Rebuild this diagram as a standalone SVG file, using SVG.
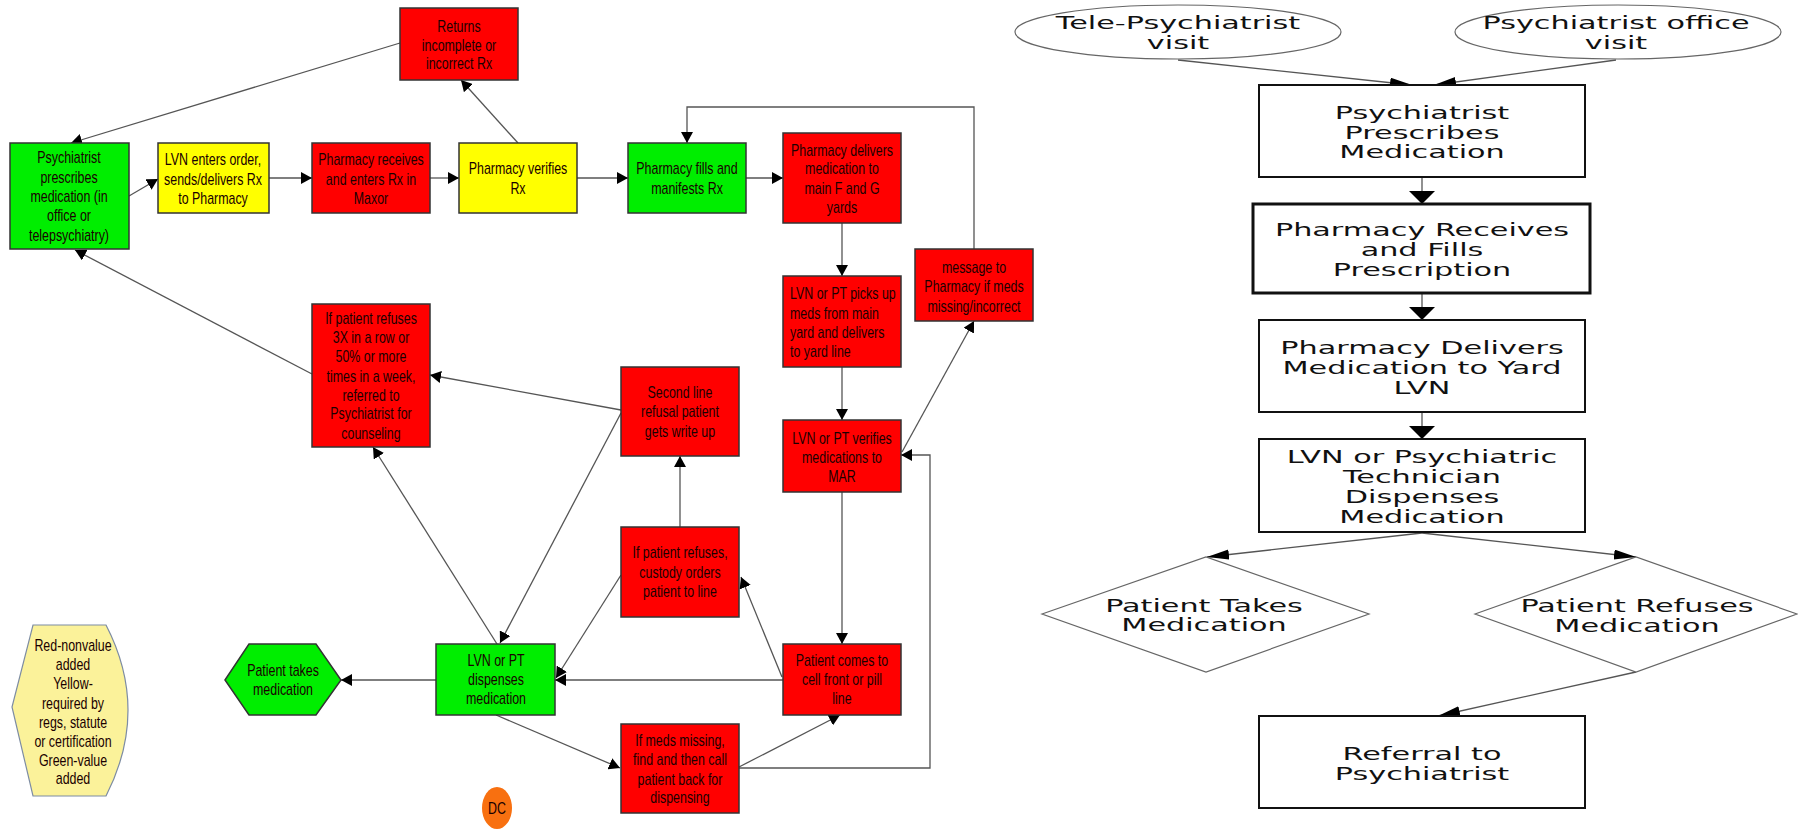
<svg xmlns="http://www.w3.org/2000/svg" width="1798" height="830" viewBox="0 0 1798 830">
<defs>
<style>
.bx{stroke:#333;stroke-width:1.5}
.red{fill:#ff0000}.grn{fill:#00ee00}.yel{fill:#ffff00}
.lt{font-family:"Liberation Sans",Arial,sans-serif;font-size:17px;fill:#1a0000;text-anchor:middle}
.rt{font-family:"DejaVu Sans","Liberation Sans",sans-serif;font-size:17px;fill:#111;text-anchor:middle}
.cn{fill:none;stroke:#555;stroke-width:1.3}
.cr{fill:none;stroke:#555;stroke-width:1.3}
.rb{fill:#fff;stroke:#111;stroke-width:2}
.rs{fill:#fff;stroke:#666;stroke-width:1.2}
</style>
<marker id="a" markerUnits="userSpaceOnUse" markerWidth="12" markerHeight="12" refX="11" refY="6" orient="auto"><path d="M0,0 L11,6 L0,12 z" fill="#000"/></marker>
<marker id="av" markerUnits="userSpaceOnUse" markerWidth="14" markerHeight="28" refX="13" refY="13" orient="auto"><path d="M0,0 L13,13 L0,26 z" fill="#000"/></marker>
<marker id="ad" markerUnits="userSpaceOnUse" markerWidth="24" markerHeight="12" refX="22" refY="5" orient="auto"><path d="M0,0 L22,5 L0,10 z" fill="#000"/></marker>
</defs>

<g id="connectors">
<path class="cn" d="M129,196 L158,179" marker-end="url(#a)"/>
<path class="cn" d="M269,178 H312" marker-end="url(#a)"/>
<path class="cn" d="M430,178 H459" marker-end="url(#a)"/>
<path class="cn" d="M577,178 H628" marker-end="url(#a)"/>
<path class="cn" d="M746,178 H783" marker-end="url(#a)"/>
<path class="cn" d="M518,143 L461,80" marker-end="url(#a)"/>
<path class="cn" d="M400,43 L71,143" marker-end="url(#a)"/>
<path class="cn" d="M842,223 V276" marker-end="url(#a)"/>
<path class="cn" d="M842,367 V420" marker-end="url(#a)"/>
<path class="cn" d="M902,452 L974,321" marker-end="url(#a)"/>
<path class="cn" d="M974,249 V107 H687 V143" marker-end="url(#a)"/>
<path class="cn" d="M842,492 V644" marker-end="url(#a)"/>
<path class="cn" d="M783,680 H555" marker-end="url(#a)"/>
<path class="cn" d="M782,677 L741,577" marker-end="url(#a)"/>
<path class="cn" d="M621,575 L556,678" marker-end="url(#a)"/>
<path class="cn" d="M680,527 V456" marker-end="url(#a)"/>
<path class="cn" d="M621,410 L430,375" marker-end="url(#a)"/>
<path class="cn" d="M621,413 L500,643" marker-end="url(#a)"/>
<path class="cn" d="M497,644 L373,447" marker-end="url(#a)"/>
<path class="cn" d="M312,374 L75,250" marker-end="url(#a)"/>
<path class="cn" d="M436,680 H341" marker-end="url(#a)"/>
<path class="cn" d="M496,715 L620,768" marker-end="url(#a)"/>
<path class="cn" d="M739,767 L840,715" marker-end="url(#a)"/>
<path class="cn" d="M739,768 H930 V455 H901" marker-end="url(#a)"/>
<path class="cr" d="M1178,60 L1412,85" marker-end="url(#ad)"/>
<path class="cr" d="M1616,60 L1434,85" marker-end="url(#ad)"/>
<path class="cr" d="M1422,177 V204" marker-end="url(#av)"/>
<path class="cr" d="M1422,293 V320" marker-end="url(#av)"/>
<path class="cr" d="M1422,412 V439" marker-end="url(#av)"/>
<path class="cr" d="M1422,533 L1207,557" marker-end="url(#ad)"/>
<path class="cr" d="M1422,533 L1636,557" marker-end="url(#ad)"/>
<path class="cr" d="M1636,672 L1438,716" marker-end="url(#ad)"/>
</g>

<g id="n-psych"><rect class="bx grn" x="10" y="143" width="119" height="106"/>
<text class="lt" transform="translate(69 0) scale(0.73 1)"><tspan x="0" y="163">Psychiatrist</tspan><tspan x="0" y="183">prescribes</tspan><tspan x="0" y="202">medication (in</tspan><tspan x="0" y="221">office or</tspan><tspan x="0" y="241">telepsychiatry)</tspan></text></g>
<g id="n-lvnorder"><rect class="bx yel" x="158" y="143" width="111" height="70"/>
<text class="lt" transform="translate(213 0) scale(0.73 1)"><tspan x="0" y="165">LVN enters order,</tspan><tspan x="0" y="185">sends/delivers Rx</tspan><tspan x="0" y="204">to Pharmacy</tspan></text></g>
<g id="n-pharmrec"><rect class="bx red" x="312" y="143" width="118" height="70"/>
<text class="lt" transform="translate(371 0) scale(0.73 1)"><tspan x="0" y="165">Pharmacy receives</tspan><tspan x="0" y="185">and enters Rx in</tspan><tspan x="0" y="204">Maxor</tspan></text></g>
<g id="n-verifies"><rect class="bx yel" x="459" y="143" width="118" height="70"/>
<text class="lt" transform="translate(518 0) scale(0.73 1)"><tspan x="0" y="174">Pharmacy verifies</tspan><tspan x="0" y="194">Rx</tspan></text></g>
<g id="n-returns"><rect class="bx red" x="400" y="8" width="118" height="72"/>
<text class="lt" transform="translate(459 0) scale(0.73 1)"><tspan x="0" y="32">Returns</tspan><tspan x="0" y="51">incomplete or</tspan><tspan x="0" y="69">incorrect Rx</tspan></text></g>
<g id="n-fills"><rect class="bx grn" x="628" y="143" width="118" height="70"/>
<text class="lt" transform="translate(687 0) scale(0.73 1)"><tspan x="0" y="174">Pharmacy fills and</tspan><tspan x="0" y="194">manifests Rx</tspan></text></g>
<g id="n-delivers"><rect class="bx red" x="783" y="133" width="118" height="90"/>
<text class="lt" transform="translate(842 0) scale(0.73 1)"><tspan x="0" y="156">Pharmacy delivers</tspan><tspan x="0" y="174">medication to</tspan><tspan x="0" y="194">main F and G</tspan><tspan x="0" y="213">yards</tspan></text></g>
<g id="n-pickup"><rect class="bx red" x="783" y="276" width="118" height="91"/>
<text class="lt" style="text-anchor:start" transform="translate(790 0) scale(0.73 1)"><tspan x="0" y="299">LVN or PT picks up</tspan><tspan x="0" y="319">meds from main</tspan><tspan x="0" y="338">yard and delivers</tspan><tspan x="0" y="357">to yard line</tspan></text></g>
<g id="n-message"><rect class="bx red" x="915" y="249" width="118" height="72"/>
<text class="lt" transform="translate(974 0) scale(0.73 1)"><tspan x="0" y="273">message to</tspan><tspan x="0" y="292">Pharmacy if meds</tspan><tspan x="0" y="312">missing/incorrect</tspan></text></g>
<g id="n-mar"><rect class="bx red" x="783" y="420" width="118" height="72"/>
<text class="lt" transform="translate(842 0) scale(0.73 1)"><tspan x="0" y="444">LVN or PT verifies</tspan><tspan x="0" y="463">medications to</tspan><tspan x="0" y="482">MAR</tspan></text></g>
<g id="n-second"><rect class="bx red" x="621" y="367" width="118" height="89"/>
<text class="lt" transform="translate(680 0) scale(0.73 1)"><tspan x="0" y="398">Second line</tspan><tspan x="0" y="417">refusal patient</tspan><tspan x="0" y="437">gets write up</tspan></text></g>
<g id="n-custody"><rect class="bx red" x="621" y="527" width="118" height="90"/>
<text class="lt" transform="translate(680 0) scale(0.73 1)"><tspan x="0" y="558">If patient refuses,</tspan><tspan x="0" y="578">custody orders</tspan><tspan x="0" y="597">patient to line</tspan></text></g>
<g id="n-comes"><rect class="bx red" x="783" y="644" width="118" height="71"/>
<text class="lt" transform="translate(842 0) scale(0.73 1)"><tspan x="0" y="666">Patient comes to</tspan><tspan x="0" y="685">cell front or pill</tspan><tspan x="0" y="704">line</tspan></text></g>
<g id="n-missing"><rect class="bx red" x="621" y="724" width="118" height="89"/>
<text class="lt" transform="translate(680 0) scale(0.73 1)"><tspan x="0" y="746">If meds missing,</tspan><tspan x="0" y="765">find and then call</tspan><tspan x="0" y="785">patient back for</tspan><tspan x="0" y="803">dispensing</tspan></text></g>
<g id="n-dispenses"><rect class="bx grn" x="436" y="644" width="119" height="71"/>
<text class="lt" transform="translate(496 0) scale(0.73 1)"><tspan x="0" y="666">LVN or PT</tspan><tspan x="0" y="685">dispenses</tspan><tspan x="0" y="704">medication</tspan></text></g>
<g id="n-takes"><polygon class="bx grn" points="225,680 249,644 316,644 341,680 316,715 249,715"/>
<text class="lt" transform="translate(283 0) scale(0.73 1)"><tspan x="0" y="676">Patient takes</tspan><tspan x="0" y="695">medication</tspan></text></g>
<g id="n-3x"><rect class="bx red" x="312" y="304" width="118" height="143"/>
<text class="lt" transform="translate(371 0) scale(0.73 1)"><tspan x="0" y="324">If patient refuses</tspan><tspan x="0" y="343">3X in a row or</tspan><tspan x="0" y="362">50% or more</tspan><tspan x="0" y="382">times in a week,</tspan><tspan x="0" y="401">referred to</tspan><tspan x="0" y="419">Psychiatrist for</tspan><tspan x="0" y="439">counseling</tspan></text></g>
<g id="n-legend"><path d="M33,625 L106,625 Q150,710 106,796 L33,796 L12,707 Z" fill="#fbf29a" stroke="#7d8ca3" stroke-width="1.2"/>
<text class="lt" transform="translate(73 0) scale(0.73 1)"><tspan x="0" y="651">Red-nonvalue</tspan><tspan x="0" y="670">added</tspan><tspan x="0" y="689">Yellow-</tspan><tspan x="0" y="709">required by</tspan><tspan x="0" y="728">regs, statute</tspan><tspan x="0" y="747">or certification</tspan><tspan x="0" y="766">Green-value</tspan><tspan x="0" y="784">added</tspan></text></g>
<g id="n-dc"><ellipse cx="497" cy="808" rx="15" ry="21" fill="#f87010"/>
<text class="lt" transform="translate(497 0) scale(0.73 1)" x="0" y="814">DC</text></g>

<g id="r-tele"><ellipse class="rs" cx="1178" cy="32" rx="163" ry="27"/>
<text class="rt" transform="translate(1178 0) scale(1.78 1)"><tspan x="0" y="29">Tele-Psychiatrist</tspan><tspan x="0" y="49">visit</tspan></text></g>
<g id="r-office"><ellipse class="rs" cx="1618" cy="32" rx="163" ry="27"/>
<text class="rt" transform="translate(1616 0) scale(1.78 1)"><tspan x="0" y="29">Psychiatrist office</tspan><tspan x="0" y="49">visit</tspan></text></g>
<g id="r-prescribes"><rect class="rb" x="1259" y="85" width="326" height="92"/>
<text class="rt" transform="translate(1422 0) scale(1.78 1)"><tspan x="0" y="119">Psychiatrist</tspan><tspan x="0" y="139">Prescribes</tspan><tspan x="0" y="158">Medication</tspan></text></g>
<g id="r-receives"><rect class="rb" x="1253" y="204" width="337" height="89" style="stroke-width:3"/>
<text class="rt" transform="translate(1422 0) scale(1.78 1)"><tspan x="0" y="236">Pharmacy Receives</tspan><tspan x="0" y="256">and Fills</tspan><tspan x="0" y="276">Prescription</tspan></text></g>
<g id="r-delivers"><rect class="rb" x="1259" y="320" width="326" height="92"/>
<text class="rt" transform="translate(1422 0) scale(1.78 1)"><tspan x="0" y="354">Pharmacy Delivers</tspan><tspan x="0" y="374">Medication to Yard</tspan><tspan x="0" y="394">LVN</tspan></text></g>
<g id="r-lvn"><rect class="rb" x="1259" y="439" width="326" height="93"/>
<text class="rt" transform="translate(1422 0) scale(1.78 1)"><tspan x="0" y="463">LVN or Psychiatric</tspan><tspan x="0" y="483">Technician</tspan><tspan x="0" y="503">Dispenses</tspan><tspan x="0" y="523">Medication</tspan></text></g>
<g id="r-takes"><polygon class="rs" points="1042,614 1206,557 1369,614 1206,672"/>
<text class="rt" transform="translate(1204 0) scale(1.78 1)"><tspan x="0" y="612">Patient Takes</tspan><tspan x="0" y="631">Medication</tspan></text></g>
<g id="r-refuses"><polygon class="rs" points="1475,614 1636,557 1797,614 1636,672"/>
<text class="rt" transform="translate(1637 0) scale(1.78 1)"><tspan x="0" y="612">Patient Refuses</tspan><tspan x="0" y="632">Medication</tspan></text></g>
<g id="r-referral"><rect class="rb" x="1259" y="716" width="326" height="92"/>
<text class="rt" transform="translate(1422 0) scale(1.78 1)"><tspan x="0" y="760">Referral to</tspan><tspan x="0" y="780">Psychiatrist</tspan></text></g>
</svg>
